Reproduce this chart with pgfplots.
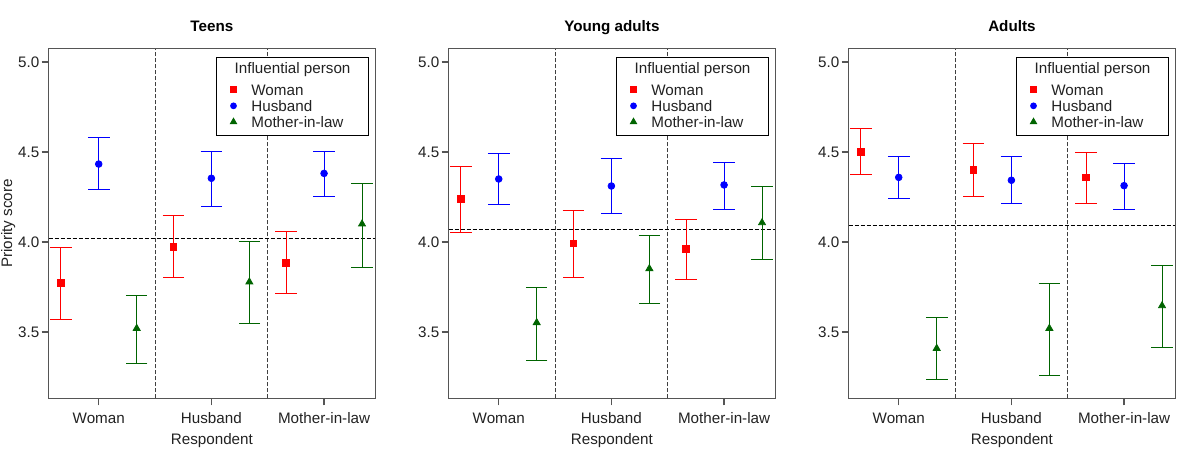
\documentclass[border=0pt]{standalone}
\usepackage{pgfplots}
\pgfplotsset{compat=1.18}
\usepackage{fontspec}
\setmainfont{Liberation Sans}
\definecolor{axgray}{HTML}{555555}
\definecolor{txt}{HTML}{222222}
\definecolor{mred}{HTML}{FF0000}
\definecolor{mblue}{HTML}{0000FF}
\definecolor{mgreen}{HTML}{006400}
\newcommand{\ls}{\rule[-2pt]{0pt}{7.6pt}}
\newcommand{\lt}{\rule[-4.8pt]{0pt}{10.8pt}}
\newcommand{\fs}{\fontsize{7.6}{9}\selectfont}
\tikzset{vline/.style={black!75, line width=0.5pt, dash pattern=on 2pt off 1pt},
         hline/.style={black, line width=0.5pt, dash pattern=on 2pt off 1pt}}

\pgfplotsset{
  panel/.style={
    scale only axis, width=163.2pt, height=174.8pt, anchor=south west,
    xmin=-0.444, xmax=2.453, ymin=3.1315, ymax=5.074,
    xtick={0,1,2}, xticklabels={Woman,Husband,Mother-in-law},
    ytick={3.5,4.0,4.5,5.0},
    yticklabel style={inner xsep=1pt, /pgf/number format/.cd, fixed, fixed zerofill, precision=1, assume math mode=true},
    xticklabel style={text height=5.6pt, text depth=1.6pt},
    tick align=outside, major tick length=3.5pt, tick pos=left,
    axis line style={axgray, line width=0.6pt},
    every tick/.style={axgray, line width=0.6pt},
    font=\fs,
    tick label style={font=\fs, text=txt},
    title style={at={(0.5,1)}, anchor=base, yshift=2.65pt, font=\fs\bfseries, text=black},
    xlabel={Respondent},
    xlabel style={at={(axis description cs:0.5,0)}, anchor=base, yshift=-23.2pt, text=txt, font=\fs},
    legend style={at={(0.98,0.977)}, anchor=north east, draw=black, line width=0.5pt,
      inner xsep=0pt, inner ysep=2pt, row sep=0pt, column sep=0pt,
      nodes={inner sep=0.2pt, text depth=}, cells={anchor=base west}, font=\fs, text=txt},
    legend image code/.code={\path (-8.5pt,0pt) (8.5pt,0pt);
      \draw[##1, mark options={scale=0.85}] plot coordinates {(0pt,2.7pt)};},
    sred/.style={only marks, mark=square*, mred, mark size=1.67pt,
      error bars/.cd, y dir=both, y explicit, error bar style={line width=0.5pt},
      error mark options={line width=0.5pt, mark size=5.4pt, rotate=90}},
    sblue/.style={only marks, mark=*, mblue, mark size=1.67pt,
      error bars/.cd, y dir=both, y explicit, error bar style={line width=0.5pt},
      error mark options={line width=0.5pt, mark size=5.4pt, rotate=90}},
    sgreen/.style={only marks, mark=triangle*, mgreen, mark size=2.0pt,
      error bars/.cd, y dir=both, y explicit, error bar style={line width=0.5pt},
      error mark options={line width=0.5pt, mark size=5.4pt, rotate=90}},
  },
  /pgfplots/table/errtab/.style={/pgfplots/table/x=x, /pgfplots/table/y=y,
    /pgfplots/table/y error plus expr=\thisrow{hi}-\thisrow{y},
    /pgfplots/table/y error minus expr=\thisrow{y}-\thisrow{lo}},
}

\begin{document}
\begin{tikzpicture}
% ---------------- Teens ----------------
\begin{axis}[panel, at={(24.35pt,30.85pt)}, title={Teens},
  ylabel={Priority score},
  ylabel style={at={(axis description cs:-0.1124,0.5)}, anchor=base, text=txt, font=\fs}]
\addlegendimage{empty legend}
\addlegendentry{\hspace{-8.35pt}Influential person\hspace{8.6pt}\lt}
\draw[vline] (axis cs:0.5,3.1315) -- (axis cs:0.5,5.074);
\draw[vline] (axis cs:1.5,3.1315) -- (axis cs:1.5,5.074);
\draw[hline] (axis cs:-0.444,4.020) -- (axis cs:2.453,4.020);
\addplot[sred] table[errtab] {
x y lo hi
-0.337 3.774 3.572 3.972
0.663 3.974 3.800 4.146
1.663 3.885 3.715 4.057
};
\addlegendentry{Woman\ls}
\addplot[sblue] table[errtab] {
x y lo hi
0 4.433 4.289 4.580
1 4.354 4.198 4.504
2 4.381 4.252 4.504
};
\addlegendentry{Husband\ls}
\addplot[sgreen] table[errtab] {
x y lo hi
0.337 3.520 3.326 3.704
1.337 3.778 3.546 4.004
2.337 4.100 3.857 4.326
};
\addlegendentry{Mother-in-law\ls}
\end{axis}
% ---------------- Young adults ----------------
\begin{axis}[panel, at={(224.35pt,30.85pt)}, title={Young adults}]
\addlegendimage{empty legend}
\addlegendentry{\hspace{-8.35pt}Influential person\hspace{8.6pt}\lt}
\draw[vline] (axis cs:0.5,3.1315) -- (axis cs:0.5,5.074);
\draw[vline] (axis cs:1.5,3.1315) -- (axis cs:1.5,5.074);
\draw[hline] (axis cs:-0.444,4.072) -- (axis cs:2.453,4.072);
\addplot[sred] table[errtab] {
x y lo hi
-0.337 4.239 4.052 4.420
0.663 3.993 3.804 4.174
1.663 3.961 3.793 4.126
};
\addlegendentry{Woman\ls}
\addplot[sblue] table[errtab] {
x y lo hi
0 4.350 4.209 4.489
1 4.311 4.157 4.463
2 4.317 4.183 4.441
};
\addlegendentry{Husband\ls}
\addplot[sgreen] table[errtab] {
x y lo hi
0.337 3.552 3.341 3.748
1.337 3.852 3.657 4.035
2.337 4.107 3.900 4.309
};
\addlegendentry{Mother-in-law\ls}
\end{axis}
% ---------------- Adults ----------------
\begin{axis}[panel, at={(424.35pt,30.85pt)}, title={Adults}]
\addlegendimage{empty legend}
\addlegendentry{\hspace{-8.35pt}Influential person\hspace{8.6pt}\lt}
\draw[vline] (axis cs:0.5,3.1315) -- (axis cs:0.5,5.074);
\draw[vline] (axis cs:1.5,3.1315) -- (axis cs:1.5,5.074);
\draw[hline] (axis cs:-0.444,4.093) -- (axis cs:2.453,4.093);
\addplot[sred] table[errtab] {
x y lo hi
-0.337 4.502 4.374 4.631
0.663 4.402 4.252 4.546
1.663 4.359 4.215 4.498
};
\addlegendentry{Woman\ls}
\addplot[sblue] table[errtab] {
x y lo hi
0 4.359 4.241 4.474
1 4.343 4.215 4.474
2 4.313 4.183 4.437
};
\addlegendentry{Husband\ls}
\addplot[sgreen] table[errtab] {
x y lo hi
0.337 3.409 3.235 3.578
1.337 3.520 3.256 3.767
2.337 3.646 3.415 3.867
};
\addlegendentry{Mother-in-law\ls}
\end{axis}
\pgfresetboundingbox
\path (0,0) rectangle (600pt,230pt);
\end{tikzpicture}
\end{document}
